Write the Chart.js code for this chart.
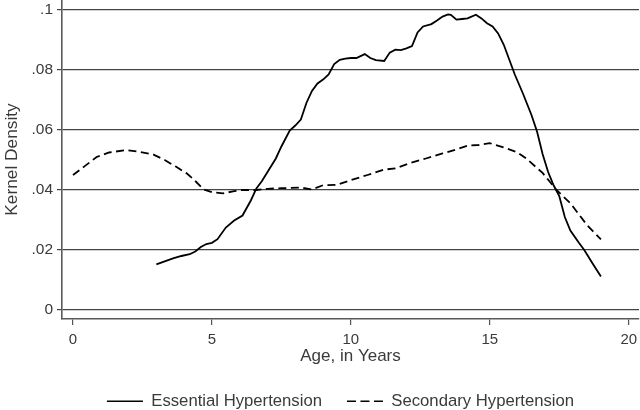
<!DOCTYPE html>
<html>
<head>
<meta charset="utf-8">
<script src="https://cdn.jsdelivr.net/npm/chart.js@4/dist/chart.umd.min.js"></script>
<style>
html,body{margin:0;padding:0;background:#fff;overflow:hidden;}
#wrap{width:640px;height:410px;position:relative;}
</style>
</head>
<body>
<div id="wrap"><canvas id="c" width="640" height="410"></canvas></div>
<script>
const essentialAge = [3.0,3.3,3.6,3.9,4.2,4.4,4.6,4.8,5.0,5.2,5.5,5.8,6.1,6.4,6.6,6.8,7.0,7.3,7.5,7.8,8.0,8.2,8.4,8.6,8.8,9.0,9.2,9.4,9.6,9.8,10.0,10.2,10.5,10.7,10.9,11.2,11.4,11.6,11.8,12.0,12.2,12.4,12.6,12.9,13.1,13.3,13.5,13.6,13.8,14.0,14.2,14.5,14.7,14.9,15.1,15.3,15.5,15.7,15.9,16.2,16.5,16.7,16.9,17.1,17.3,17.5,17.7,17.9,18.2,18.4,18.7,19.0];
const essentialDensity = [0.0152,0.0162,0.0172,0.0180,0.0186,0.0195,0.0210,0.0220,0.0224,0.0236,0.0275,0.0298,0.0315,0.0365,0.0405,0.0430,0.0460,0.0505,0.0545,0.0598,0.0615,0.0635,0.0690,0.0730,0.0755,0.0768,0.0785,0.0820,0.0834,0.0838,0.0840,0.0840,0.0853,0.0840,0.0833,0.0830,0.0858,0.0868,0.0866,0.0872,0.0880,0.0925,0.0945,0.0953,0.0965,0.0978,0.0985,0.0984,0.0968,0.0970,0.0972,0.0984,0.0972,0.0956,0.0945,0.0922,0.0885,0.0835,0.0785,0.0720,0.0650,0.0595,0.0520,0.0460,0.0415,0.0380,0.0310,0.0265,0.0225,0.0200,0.0155,0.0112];

const secondaryAge = [0.0,0.4,0.85,1.3,1.9,2.4,2.9,3.3,3.7,4.1,4.4,4.7,5.0,5.4,5.8,6.1,6.6,7.0,7.5,8.2,8.6,9.0,9.5,10.0,10.6,11.2,11.6,12.1,12.7,13.3,13.8,14.2,14.6,15.0,15.6,16.0,16.3,16.9,17.4,17.9,18.5,19.0];
const secondaryDensity = [0.0450,0.0478,0.0510,0.0525,0.0533,0.0527,0.0518,0.0500,0.0478,0.0455,0.0430,0.0402,0.0393,0.0389,0.0396,0.0400,0.0400,0.0404,0.0406,0.0408,0.0402,0.0416,0.0417,0.0433,0.0450,0.0468,0.0472,0.0489,0.0505,0.0522,0.0535,0.0548,0.0550,0.0556,0.0539,0.0525,0.0506,0.0457,0.0400,0.0356,0.0283,0.0235];

const seriesNames = ["Essential Hypertension", "Secondary Hypertension"];
const xTickValues = [0, 5, 10, 15, 20];
const xTickLabels = ["0", "5", "10", "15", "20"];
const yTickValues = [0, 0.02, 0.04, 0.06, 0.08, 0.1];
const yTickLabels = ["0", ".02", ".04", ".06", ".08", ".1"];
const xTitle = "Age, in Years";
const yTitle = "Kernel Density";

const toPts = (xs, ys) => xs.map((x, i) => ({x: x, y: ys[i]}));

Chart.defaults.font.family = "'Liberation Sans', Arial, sans-serif";
Chart.defaults.font.size = 15;
Chart.defaults.color = '#3a3a3a';

const legendShift = {
  id: 'legendShift',
  afterLayout(chart) {
    const lg = chart.legend;
    if (!lg) return;
    lg.top -= 6;
    lg.left += 21; lg.right += 21;
  }
};

new Chart(document.getElementById('c'), {
  type: 'scatter',
  data: {
    datasets: [
      {
        label: seriesNames[0],
        data: toPts(essentialAge, essentialDensity),
        showLine: true,
        borderColor: '#000',
        backgroundColor: 'transparent',
        borderWidth: 1.8,
        pointRadius: 0,
        tension: 0
      },
      {
        label: seriesNames[1],
        data: toPts(secondaryAge, secondaryDensity),
        showLine: true,
        borderColor: '#000',
        backgroundColor: 'transparent',
        borderWidth: 1.8,
        borderDash: [8, 4.5],
        pointRadius: 0,
        tension: 0
      }
    ]
  },
  options: {
    responsive: false,
    animation: false,
    layout: { padding: { left: 0, right: 1, top: 0, bottom: 0 } },
    plugins: {
      tooltip: { enabled: false },
      legend: {
        position: 'bottom',
        maxHeight: 36,
        labels: {
          usePointStyle: true,
          pointStyle: 'line',
          pointStyleWidth: 36,
          boxHeight: 16,
          padding: 25,
          color: '#3a3a3a',
          font: { size: 16.7 },
          generateLabels(chart) {
            return chart.data.datasets.map((ds, i) => ({
              text: ds.label,
              fillStyle: 'transparent',
              strokeStyle: ds.borderColor,
              lineWidth: 1.5,
              lineDash: ds.borderDash ? [9, 4.5] : [],
              lineCap: 'butt',
              pointStyle: 'line',
              hidden: false,
              datasetIndex: i,
              fontColor: '#3a3a3a'
            }));
          }
        }
      }
    },
    scales: {
      x: {
        type: 'linear',
        min: -0.396,
        max: 20.37,
        afterBuildTicks(s) { s.ticks = xTickValues.map(v => ({value: v})); },
        afterFit(s) { s.height = 55; s.paddingLeft = 0; s.paddingRight = 0; },
        ticks: {
          autoSkip: false,
          maxRotation: 0,
          padding: 5.5,
          font: { size: 15 },
          callback(v, i) { return xTickLabels[i]; }
        },
        grid: {
          drawOnChartArea: false,
          drawTicks: true,
          tickLength: 6,
          color: '#555',
          lineWidth: 1.2
        },
        border: { display: true, color: '#5a5a5a', width: 1.6 },
        title: {
          display: true,
          text: xTitle,
          font: { size: 17 },
          padding: { top: 0, bottom: 7 }
        }
      },
      y: {
        type: 'linear',
        min: -0.003,
        max: 0.10333,
        afterBuildTicks(s) { s.ticks = yTickValues.map(v => ({value: v})); },
        afterFit(s) { s.width = 62; s.paddingTop = 0; s.paddingBottom = 0; },
        ticks: {
          autoSkip: false,
          padding: 4,
          font: { size: 15.5 },
          callback(v, i) { return yTickLabels[i]; }
        },
        grid: {
          drawOnChartArea: true,
          drawTicks: true,
          tickLength: 5,
          color: '#444',
          lineWidth: 1.2
        },
        border: { display: true, color: '#5a5a5a', width: 1.6 },
        title: {
          display: true,
          text: yTitle,
          font: { size: 17.3 },
          padding: { top: 1.5, bottom: 0 }
        }
      }
    }
  },
  plugins: [legendShift]
});
</script>
</body>
</html>
